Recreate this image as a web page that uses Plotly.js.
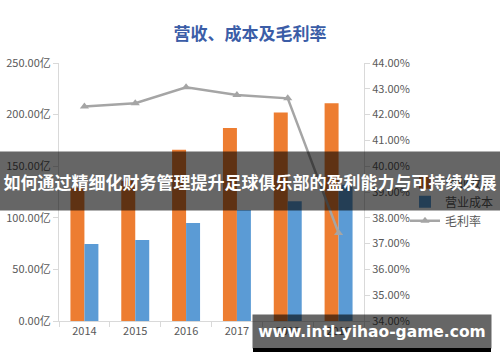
<!DOCTYPE html>
<html>
<head>
<meta charset="utf-8">
<script src="https://cdn.plot.ly/plotly-3.0.1.min.js"></script>
<style>
html,body{margin:0;padding:0;background:#fff;}
#chart{width:500px;height:362px;}
</style>
</head>
<body>
<div id="chart"></div>
<script>
var years = ["2014", "2015", "2016", "2017", "2018", "2019"];
var revenue = [129, 136, 166, 187, 202, 211];
var cost = [74.5, 78.5, 95, 107.5, 116, 132];
var margin = [42.31, 42.44, 43.06, 42.76, 42.63, 37.41];
var chartTitle = "营收、成本及毛利率";
var bannerText = "如何通过精细化财务管理提升足球俱乐部的盈利能力与可持续发展";
var siteText = "www.intl-yihao-game.com";

var font = "'Noto Sans CJK SC', 'Noto Sans', sans-serif";

var traces = [
  {type: "bar", name: "营业收入", x: years, y: revenue, marker: {color: "#ED7D31"}, hoverinfo: "skip"},
  {type: "bar", name: "营业成本", x: years, y: cost, marker: {color: "#5B9BD5"}, hoverinfo: "skip"},
  {type: "scatter", mode: "lines+markers", name: "毛利率", x: years, y: margin, yaxis: "y2",
   line: {color: "#A5A5A5", width: 2.5},
   marker: {symbol: "triangle-up", size: 8, color: "#A5A5A5"}, hoverinfo: "skip"}
];

var W = 305, H = 258;
var layout = {
  width: 500, height: 362,
  margin: {l: 59, r: 136, t: 63, b: 41, pad: 0, autoexpand: false},
  paper_bgcolor: "#fff", plot_bgcolor: "#fff",
  font: {family: font, color: "#595959", size: 11},
  title: {text: "<b>" + chartTitle + "</b>", font: {family: font, size: 17, color: "#3B5DA7"},
          x: 0.5, xref: "container", y: 0.905, yref: "container", xanchor: "center", yanchor: "middle"},
  barmode: "group", bargap: 0.45, bargroupgap: 0,
  showlegend: true,
  legend: {x: 0.81, y: 0.535, xref: "container", yref: "container", xanchor: "left", yanchor: "top",
           font: {size: 12, color: "#595959"},
           bgcolor: "rgba(0,0,0,0)", tracegroupgap: 0, itemwidth: 30},
  xaxis: {type: "category", showline: true, linecolor: "#D9D9D9", linewidth: 1,
          ticks: "outside", tickson: "boundaries", ticklen: 5, tickcolor: "#D9D9D9",
          tickfont: {size: 11, color: "#595959"}, showgrid: false, zeroline: false},
  yaxis: {range: [0, 250], dtick: 50, tickformat: ".2f", ticksuffix: "亿", showgrid: false,
          showline: true, linecolor: "#D9D9D9", ticks: "outside", ticklen: 5, tickcolor: "#D9D9D9",
          zeroline: false, tickfont: {size: 11, color: "#595959"}},
  yaxis2: {range: [34, 44], dtick: 1, tickformat: ".2f", ticksuffix: "%", overlaying: "y", side: "right",
           showgrid: false, showline: true, linecolor: "#D9D9D9", ticks: "outside", ticklen: 5,
           tickcolor: "#D9D9D9", zeroline: false, tickfont: {size: 11, color: "#595959"}},
  annotations: [
    {text: "<b>" + bannerText + "</b>", xref: "paper", yref: "paper",
     x: (250 - 59) / W, y: (321 - 181) / H, xanchor: "center", yanchor: "middle",
     showarrow: false, width: 500, height: 58, bgcolor: "rgba(0,0,0,0.6)",
     font: {family: font, size: 17, color: "#FFFFFF"}, borderpad: 0},
    {text: "<b>" + siteText + "</b>", xref: "paper", yref: "paper",
     x: (372 - 59) / W, y: (321 - 331.5) / H, xanchor: "center", yanchor: "middle",
     showarrow: false, width: 238, height: 33, bgcolor: "rgba(0,0,0,0.6)",
     font: {family: "'DejaVu Sans', sans-serif", size: 15.5, color: "#FFFFFF"}, borderpad: 0}
  ],
  shapes: [
    {type: "rect", xref: "paper", yref: "paper", layer: "above",
     x0: (253 - 59) / W, x1: (491 - 59) / W, y0: (321 - 352) / H, y1: (321 - 348) / H,
     fillcolor: "#000", line: {width: 0}}
  ]
};

Plotly.newPlot("chart", traces, layout, {displayModeBar: false, staticPlot: true});
</script>
</body>
</html>
